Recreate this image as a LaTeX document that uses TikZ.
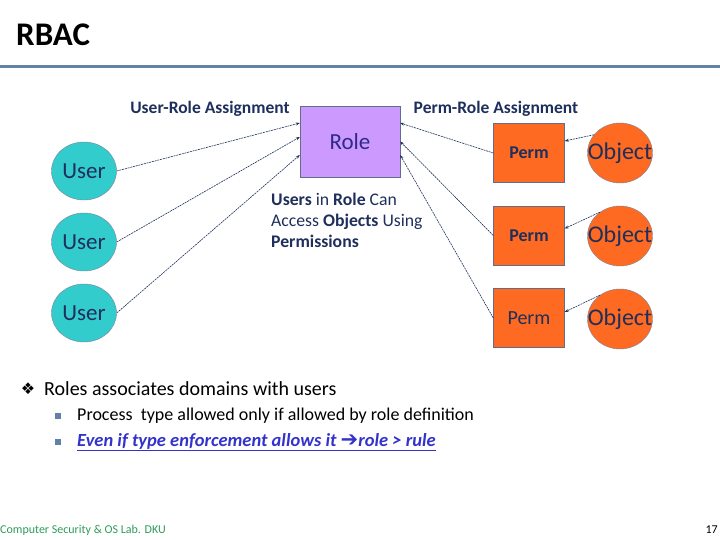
\documentclass[tikz,border=0pt]{standalone}
\usepackage{fontspec}
\setmainfont{Carlito}
\newfontfamily\symfont{DejaVu Sans}
\usetikzlibrary{arrows.meta,shapes.geometric}
\definecolor{navy}{HTML}{1F2F5C}
\definecolor{rolefill}{HTML}{CC99FF}
\definecolor{roletext}{HTML}{2E2A86}
\definecolor{userfill}{HTML}{33CCCC}
\definecolor{permfill}{HTML}{FF6A22}
\definecolor{rulecol}{HTML}{5F82A6}
\definecolor{linkblue}{HTML}{3333CC}
\definecolor{footgreen}{HTML}{2E9A5C}
\begin{document}
\begin{tikzpicture}[x=1pt,y=-1pt]
\tikzstyle{every node}=[inner sep=0pt]
\tikzstyle{user}=[ellipse,draw=navy!60,fill=userfill,minimum width=65pt,minimum height=58pt,text=navy,font=\fontsize{23}{26}\selectfont]
\tikzstyle{perm}=[rectangle,draw=navy!70,fill=permfill,minimum width=71pt,minimum height=59pt,text=navy]
\tikzstyle{object}=[ellipse,draw=navy!60,fill=permfill,minimum width=65pt,minimum height=60pt,text=navy,font=\fontsize{24}{28}\selectfont]
\tikzstyle{assign}=[-{Stealth[length=4pt,width=3pt]},line width=0.6pt,navy,dash pattern=on 2pt off 0.8pt]
\tikzstyle{label}=[text=navy,font=\bfseries\fontsize{17.5}{20}\selectfont]
\useasboundingbox (0,0) rectangle (720,540);
% title
\node[anchor=west,font=\bfseries\fontsize{33}{36}\selectfont](title) at (16,35) {RBAC};
\draw[rulecol,line width=3pt] (0,67) -- (720,67);
% role
\node[rectangle,draw=navy!70,fill=rolefill,minimum width=100pt,minimum height=71pt,text=roletext,font=\fontsize{23}{26}\selectfont](role) at (350,141.5) {Role};
\node[label](ura) at (210,109) {User-Role Assignment};
\node[label](pra) at (496,109) {Perm-Role Assignment};
% users
\node[user](u0) at (84,171) {User};
\node[user](u1) at (84,242) {User};
\node[user](u2) at (84,313) {User};
% perms
\node[perm,font=\bfseries\fontsize{18}{20}\selectfont](p0) at (529,153) {Perm};
\node[perm,font=\bfseries\fontsize{18}{20}\selectfont](p1) at (529,235.5) {Perm};
\node[perm,font=\fontsize{20}{23}\selectfont](p2) at (529,318) {Perm};
% objects
\node[object](o0) at (620,153) {\makebox[0pt]{Object}};
\node[object](o1) at (620,236) {\makebox[0pt]{Object}};
\node[object](o2) at (620,319) {\makebox[0pt]{Object}};
% assignments
\draw[assign] (u0.east) -- ([yshift=18.5pt]role.west);
\draw[assign] (u1.east) -- ([yshift=4.5pt]role.west);
\draw[assign] (u2.east) -- ([yshift=-13.5pt]role.west);
\draw[assign] (p0.west) -- ([yshift=18.5pt]role.east);
\draw[assign] (p1.west) -- ([yshift=0pt]role.east);
\draw[assign] (p2.west) -- ([yshift=-13.5pt]role.east);
\draw[assign] (o0.145) -- ([yshift=12pt]p0.east);
\draw[assign] (o1.130) -- ([yshift=7pt]p1.east);
\draw[assign] (o2.130) -- ([yshift=6pt]p2.east);
% note
\node[anchor=north west,align=left,text=navy,font=\fontsize{17.7}{21}\selectfont](note) at (271,193) {\textbf{Users} in \textbf{Role} Can\\Access \textbf{Objects} Using\\\textbf{Permissions}};
% bullets
\node(b0) at (28,389) {\symfont\fontsize{16}{18}\selectfont ❖};
\node[anchor=west,font=\fontsize{20}{24}\selectfont](t0) at (44,389) {Roles associates domains with users};
\node[rectangle,fill=rulecol,minimum size=6pt](s0) at (58,416) {};
\node[anchor=west,font=\fontsize{18}{21}\selectfont](t1) at (77,416) {Process~ type allowed only if allowed by role definition};
\node[rectangle,fill=rulecol,minimum size=6pt](s1) at (58,442) {};
\node[anchor=west,text=linkblue,font=\bfseries\itshape\fontsize{18.5}{21}\selectfont](t2) at (77,442) {\underline{Even if type enforcement allows it {\symfont\upshape\fontsize{21}{21}\selectfont ➔}role > rule}};
% footer
\node[anchor=west,text=footgreen,font=\fontsize{12}{14}\selectfont](foot) at (0,530) {Computer Security \& OS Lab. DKU};
\node[anchor=east,font=\fontsize{12}{14}\selectfont](page) at (718,530) {17};
\end{tikzpicture}
\end{document}
